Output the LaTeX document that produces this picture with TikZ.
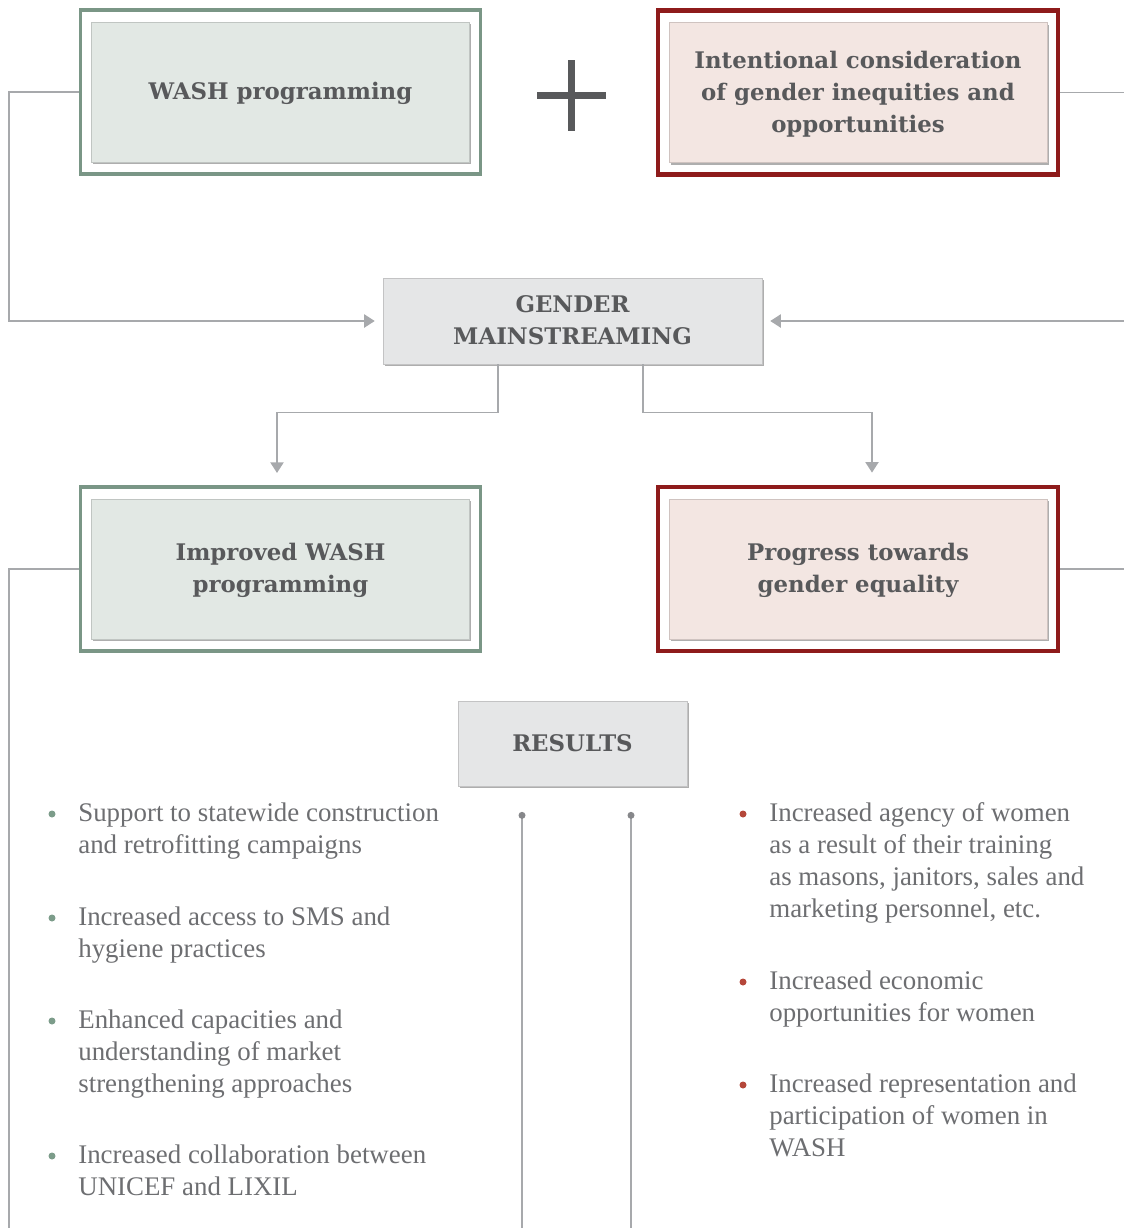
\documentclass[tikz,border=0pt]{standalone}
\usepackage{fontspec}
\setmainfont{Liberation Serif}
\newfontfamily\headfont{DejaVu Serif}
\usepackage{tikz}
\usetikzlibrary{calc, positioning, arrows.meta, shadows}

\definecolor{washgreen}{HTML}{7A9686}
\definecolor{washfill}{HTML}{E2E8E4}
\definecolor{gendred}{HTML}{8E1B1B}
\definecolor{gendfill}{HTML}{F3E6E2}
\definecolor{mainfill}{HTML}{E5E6E7}
\definecolor{headgray}{HTML}{58595B}
\definecolor{bodygray}{HTML}{6D6E71}
\definecolor{linkgray}{HTML}{A7A9AC}
\definecolor{dotgreen}{HTML}{7C9C8A}
\definecolor{dotred}{HTML}{B5473A}

\newlength\pxu
\setlength\pxu{0.02cm}
\newcommand\headtext{\headfont\bfseries\fontsize{13}{18.1}\selectfont}
\newcommand\bodytext{\fontsize{15.3}{18.1}\selectfont}

\tikzset{
    outerframe/.style={draw=#1, line width=2pt, minimum width=400\pxu, minimum height=164\pxu},
    shadebox/.style={fill=#1, draw=#1!85!black, line width=0.4pt, text=headgray, font=\headtext,
        align=center, inner sep=0pt, text depth=1pt,
        drop shadow={shadow xshift=0.9pt, shadow yshift=-1.3pt, opacity=0.45, fill=black!70}},
    inbox/.style={shadebox=#1, minimum width=378\pxu, minimum height=140\pxu},
    link/.style={draw=linkgray, line width=0.85pt},
    linkarrow/.style={link, -{Triangle[width=7.5pt,length=6pt]}},
    item/.style={anchor=north west, inner sep=0pt, align=left, font=\bodytext, text=bodygray},
}

\begin{document}
\begin{tikzpicture}[x=\pxu, y=-\pxu]
    \useasboundingbox (0,0) rectangle (1124,1228);

    % top row
    \node[outerframe=washgreen] (washF) at (280.5,92) {};
    \node[inbox=washfill] (wash) at (washF) {WASH programming};
    \node[outerframe=gendred, line width=2.4pt] (intentF) at (858,92.5) {};
    \node[inbox=gendfill] (intent) at (intentF) {Intentional consideration\\of gender inequities and\\opportunities};
    \draw [headgray, line width=7\pxu] (571,60) -- (571,131) (537,95) -- (606,95);

    % middle
    \node[shadebox=mainfill, minimum width=379\pxu, minimum height=86\pxu] (gender) at (572.5,321) {GENDER\\MAINSTREAMING};

    \node[outerframe=washgreen] (improvedF) at (280.5,569) {};
    \node[inbox=washfill] (improved) at (improvedF) {Improved WASH\\programming};
    \node[outerframe=gendred, line width=2.4pt] (progressF) at (858,569) {};
    \node[inbox=gendfill] (progress) at (progressF) {Progress towards\\gender equality};

    \node[shadebox=mainfill, minimum width=229\pxu, minimum height=85\pxu] (results) at (572.5,743.5) {RESULTS};

    % side rails
    \coordinate (railL) at (9,0);
    \coordinate (railR) at (1140,0);
    \coordinate (bottomL) at (9,1240);

    \draw[linkarrow, shorten >=4.5pt] (washF.west) -- (washF.west -| railL) |- (gender.west);
    \draw[linkarrow, shorten >=4.5pt] (intentF.east) -- (intentF.east -| railR) |- (gender.east);
    \draw[link] (improvedF.west) -| (bottomL);
    \draw[link] (progressF.east) -- (progressF.east -| railR);

    \draw[linkarrow, shorten >=7pt] ($(gender.south)+(-74.5,0)$) -- ++(0,48) -| ([xshift=-3.5\pxu]improvedF.north);
    \draw[linkarrow, shorten >=7pt] ($(gender.south)+(70.5,0)$) -- ++(0,48) -| ([xshift=14\pxu]progressF.north);

    % results stems
    \coordinate (stemA) at ($(results.south)+(-50.5,29)$);
    \coordinate (stemB) at ($(results.south)+(58.5,29)$);
    \draw[link] (stemA) -- (stemA |- bottomL);
    \draw[link] (stemB) -- (stemB |- bottomL);
    \fill[linkgray!80!black] (stemA) circle (3.5) (stemB) circle (3.5);

    % left results
    \node[item] (supp) at (78,799) {\strut Support to statewide construction\\and retrofitting campaigns};
    \node[item] (access) at (78,903) {\strut Increased access to SMS and\\hygiene practices};
    \node[item] (capac) at (78,1006) {\strut Enhanced capacities and\\understanding of market\\strengthening approaches};
    \node[item] (collab) at (78,1141) {\strut Increased collaboration between\\UNICEF and LIXIL};
    \foreach \n in {supp, access, capac, collab}
        \fill[dotgreen] ($(\n.north west)+(-26,15)$) circle (3.5);

    % right results
    \node[item] (agency) at (769,799) {\strut Increased agency of women\\as a result of their training\\as masons, janitors, sales and\\marketing personnel, etc.};
    \node[item] (econ) at (769,967) {\strut Increased economic\\opportunities for women};
    \node[item] (repr) at (769,1070) {\strut Increased representation and\\participation of women in\\WASH};
    \foreach \n in {agency, econ, repr}
        \fill[dotred] ($(\n.north west)+(-26,15)$) circle (3.5);
\end{tikzpicture}
\end{document}
